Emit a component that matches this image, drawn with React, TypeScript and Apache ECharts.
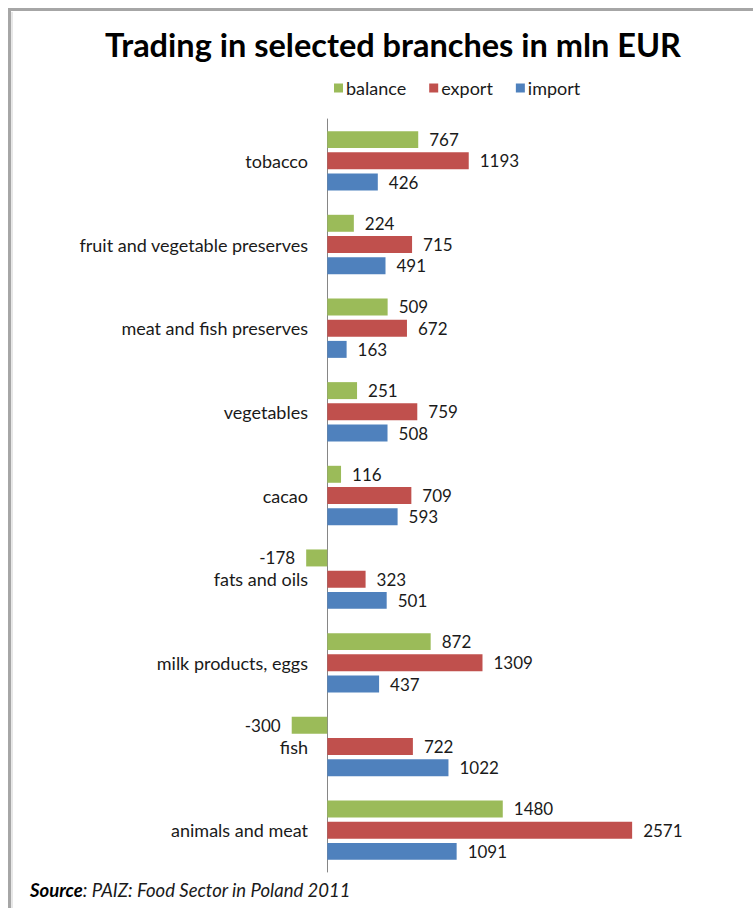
import React, { useEffect, useRef } from "react";
import * as echarts from "echarts";

const categories = [
  "tobacco",
  "fruit and vegetable preserves",
  "meat and fish preserves",
  "vegetables",
  "cacao",
  "fats and oils",
  "milk products, eggs",
  "fish",
  "animals and meat",
];
const balance = [767, 224, 509, 251, 116, -178, 872, -300, 1480];
const exportVals = [1193, 715, 672, 759, 709, 323, 1309, 722, 2571];
const importVals = [426, 491, 163, 508, 593, 501, 437, 1022, 1091];

const FONT = "Lato";

export default function App() {
  const ref = useRef<HTMLDivElement>(null);
  useEffect(() => {
    if (!ref.current) return;
    const chart = echarts.init(ref.current, undefined, { renderer: "svg" });
    const mk = (vals: number[]) =>
      vals.map((v) => ({
        value: v,
        label: { position: v < 0 ? "left" : "right" },
      }));
    const labelStyle = {
      show: true,
      distance: 11,
      color: "#1a1a1a",
      fontFamily: FONT,
      fontSize: 17,
    };
    chart.setOption({
      animation: false,
      backgroundColor: "#ffffff",
      title: {
        text: "Trading in selected branches in mln EUR",
        left: 388,
        textAlign: "center",
        top: 23,
        textStyle: { fontFamily: FONT, fontSize: 32.5, fontWeight: "bold", color: "#000" },
      },
      legend: {
        left: 329,
        top: 74,
        itemWidth: 9,
        itemHeight: 9,
        itemGap: 23,
        icon: "rect",
        textStyle: { fontFamily: FONT, fontSize: 18, color: "#1a1a1a", padding: [0, 0, 0, -2] },
        data: ["balance", "export", "import"],
      },
      grid: { left: 268, right: 70, top: 119, bottom: 36, containLabel: false },
      xAxis: {
        type: "value",
        min: -500,
        max: 3000,
        show: false,
        splitLine: { show: false },
      },
      yAxis: {
        type: "category",
        inverse: true,
        data: categories,
        axisLine: { show: true, lineStyle: { color: "#868686", width: 1 } },
        axisTick: { show: false },
        axisLabel: {
          fontFamily: FONT,
          fontSize: 18,
          color: "#1a1a1a",
          margin: -40,
        },
      },
      series: [
        {
          name: "balance",
          type: "bar",
          data: mk(balance),
          itemStyle: { color: "#9BBB59" },
          label: labelStyle,
          barGap: "25%",
          barCategoryGap: "29%",
        },
        {
          name: "export",
          type: "bar",
          data: mk(exportVals),
          itemStyle: { color: "#C0504D" },
          label: labelStyle,
          barGap: "25%",
          barCategoryGap: "29%",
        },
        {
          name: "import",
          type: "bar",
          data: mk(importVals),
          itemStyle: { color: "#4F81BD" },
          label: labelStyle,
          barGap: "25%",
          barCategoryGap: "29%",
        },
      ],
      graphic: [
        {
          type: "rect",
          shape: { x: 9.5, y: 9.5, width: 1000, height: 1000 },
          style: { fill: "none", stroke: "#a6a6a6", lineWidth: 3 },
          silent: true,
        },
        {
          type: "line",
          shape: { x1: 12, y1: 12, x2: 12, y2: 908 },
          style: { stroke: "#d0d0d0", lineWidth: 1 },
          silent: true,
        },
        {
          type: "text",
          x: 30,
          y: 890,
          style: {
            text: "{b|Source}{i|: PAIZ: Food Sector in Poland 2011}",
            verticalAlign: "middle",
            rich: {
              b: { fontFamily: FONT, fontSize: 18.5, fontWeight: "bold", fontStyle: "italic", fill: "#000" },
              i: { fontFamily: FONT, fontSize: 18.5, fontStyle: "italic", fill: "#1a1a1a" },
            },
          },
        },
      ],
    });
    return () => chart.dispose();
  }, []);
  return (
    <div
      ref={ref}
      style={{ position: "absolute", left: 0, top: 0, width: 753, height: 908 }}
    />
  );
}
